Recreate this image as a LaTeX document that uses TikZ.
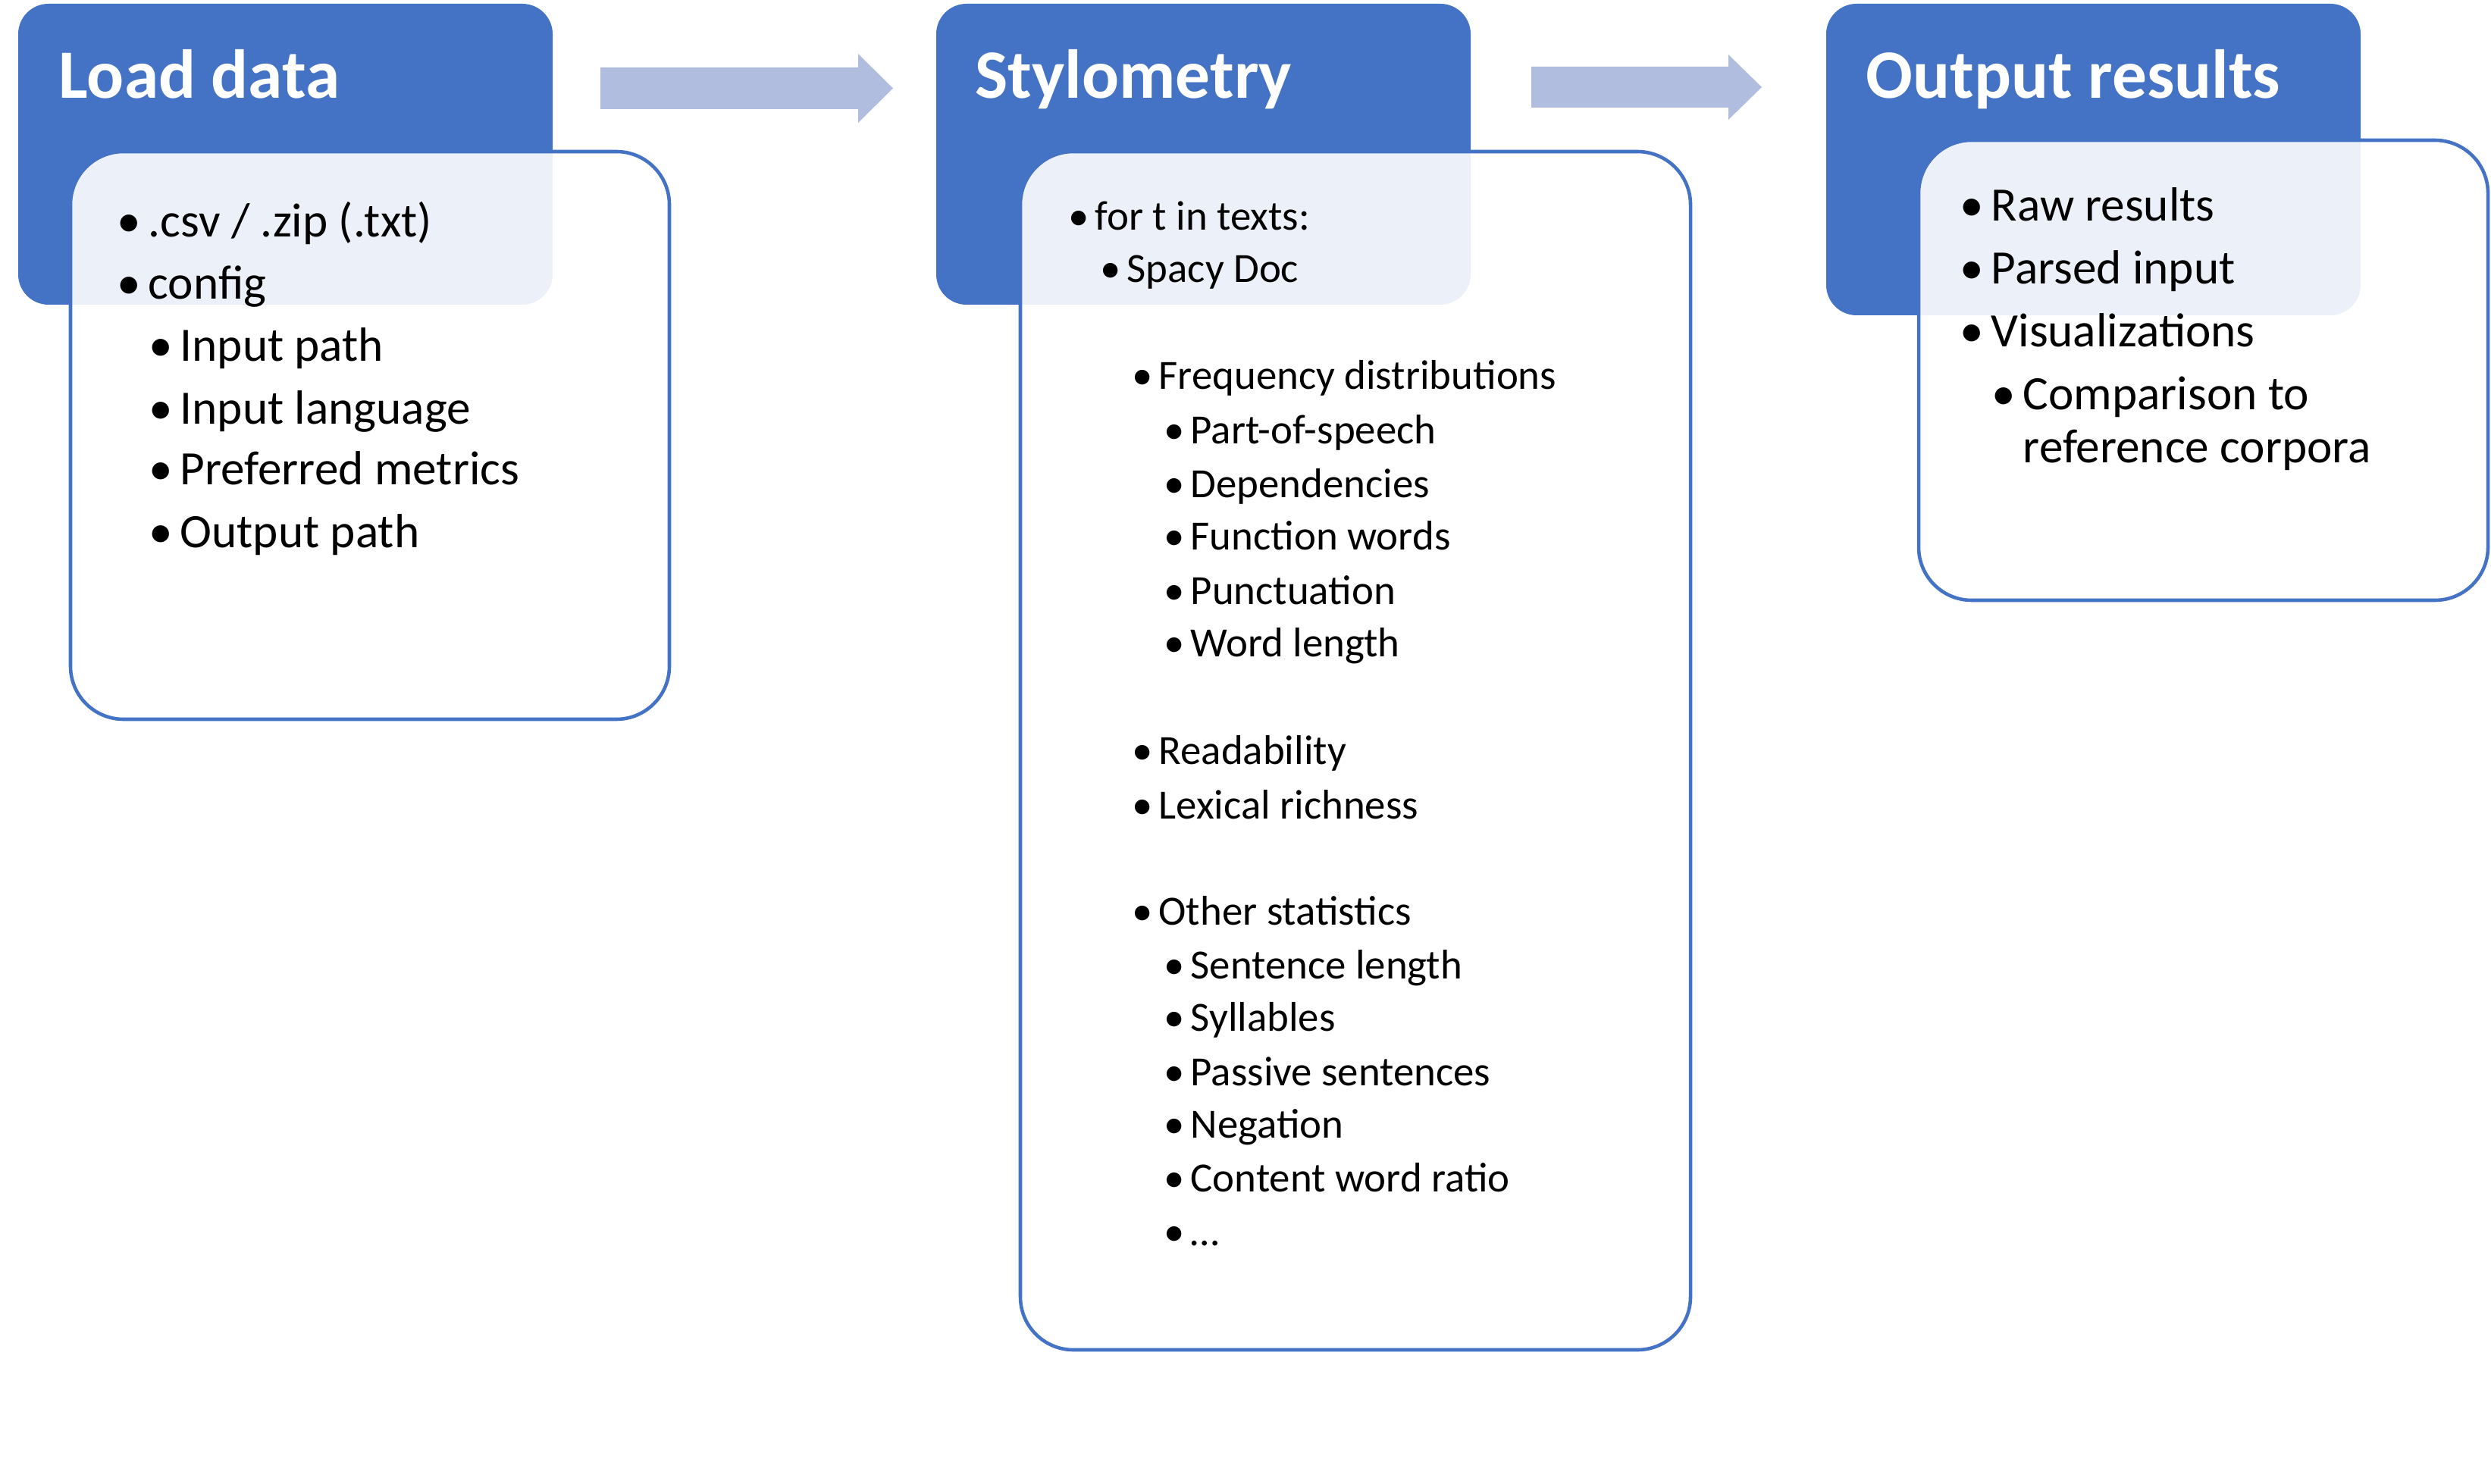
\documentclass[tikz,border=0pt]{standalone}
\usepackage{fontspec}
\setmainfont{Carlito}
\definecolor{hdblue}{HTML}{4472C4}
\definecolor{arrblue}{HTML}{B0BDDF}
\tikzstyle{hdr}=[fill=hdblue,rounded corners=.4cm]
\tikzstyle{bx}=[draw=hdblue,line width=1.3pt,fill=white,fill opacity=.9,rounded corners=.7cm]
\tikzstyle{ttl}=[anchor=base west,inner sep=0pt,text=white,font=\bfseries\fontsize{26}{31}\selectfont]
\tikzstyle{txt}=[anchor=base west,inner sep=0pt,font=\fontsize{18}{22}\selectfont]
\tikzstyle{bul}=[txt,execute at begin node={\llap{\makebox[.65em][l]{\textbullet}}}]
\tikzstyle{sml}=[font=\fontsize{15.6}{19}\selectfont]
\tikzstyle{arr}=[fill=arrblue]

\begin{document}
\begin{tikzpicture}
\useasboundingbox (0,0) rectangle (32.86,-19.58);
% Load data
\fill[hdr] (0.24,-0.05) rectangle (7.29,-4.02);
\draw[bx] (0.93,-2.00) rectangle (8.83,-9.49);
\draw (0.77,-1.30) node[ttl] (tLoad) {Load data};
\draw (1.95,-3.13) node[bul] (csv) {.csv / .zip (.txt)};
\draw (1.95,-3.95) node[bul] (cfg) {config};
\draw (2.37,-4.77) node[bul] (inpath) {Input path};
\draw (2.37,-5.59) node[bul] (inlang) {Input language};
\draw (2.37,-6.40) node[bul] (metr) {Preferred metrics};
\draw (2.37,-7.22) node[bul] (outpath) {Output path};
% arrows
\fill[arr] (7.92,-0.89) -- ++(3.40,0) -- ++(0,0.18) -- ++(0.46,-0.455) -- ++(-0.46,-0.455)
  -- ++(0,0.18) -- ++(-3.40,0) -- cycle;
\fill[arr] (20.20,-0.88) -- ++(2.60,0) -- ++(0,0.16) -- ++(0.44,-0.43) -- ++(-0.44,-0.43)
  -- ++(0,0.16) -- ++(-2.60,0) -- cycle;
% Stylometry
\fill[hdr] (12.35,-0.05) rectangle (19.40,-4.02);
\draw[bx] (13.46,-2.00) rectangle (22.30,-17.81);
\draw (12.86,-1.30) node[ttl] (tStyl) {Stylometry};
\draw (14.44,-3.04) node[bul,sml] (fort) {for t in texts:};
\draw (14.86,-3.73) node[bul,sml] (spacy) {Spacy Doc};
\draw (15.28,-5.14) node[bul,sml] (freq) {Frequency distributions};
\draw (15.70,-5.85) node[bul,sml] (pos) {Part-of-speech};
\draw (15.70,-6.56) node[bul,sml] (dep) {Dependencies};
\draw (15.70,-7.25) node[bul,sml] (func) {Function words};
\draw (15.70,-7.97) node[bul,sml] (punct) {Punctuation};
\draw (15.70,-8.66) node[bul,sml] (wlen) {Word length};
\draw (15.28,-10.08) node[bul,sml] (read) {Readability};
\draw (15.28,-10.80) node[bul,sml] (lex) {Lexical richness};
\draw (15.28,-12.20) node[bul,sml] (other) {Other statistics};
\draw (15.70,-12.91) node[bul,sml] (slen) {Sentence length};
\draw (15.70,-13.60) node[bul,sml] (syl) {Syllables};
\draw (15.70,-14.32) node[bul,sml] (pass) {Passive sentences};
\draw (15.70,-15.01) node[bul,sml] (neg) {Negation};
\draw (15.70,-15.72) node[bul,sml] (cwr) {Content word ratio};
\draw (15.70,-16.43) node[bul,sml] (etc) {…};
% Output results
\fill[hdr] (24.09,-0.05) rectangle (31.14,-4.16);
\draw[bx] (25.31,-1.85) rectangle (32.82,-7.92);
\draw (24.61,-1.30) node[ttl] (tOut) {Output results};
\draw (26.26,-2.92) node[bul] (raw) {Raw results};
\draw (26.26,-3.75) node[bul] (parsed) {Parsed input};
\draw (26.26,-4.58) node[bul] (vis) {Visualizations};
\draw (26.68,-5.41) node[bul] (comp) {Comparison to};
\draw (26.68,-6.11) node[txt] (corp) {reference corpora};
\end{tikzpicture}
\end{document}
